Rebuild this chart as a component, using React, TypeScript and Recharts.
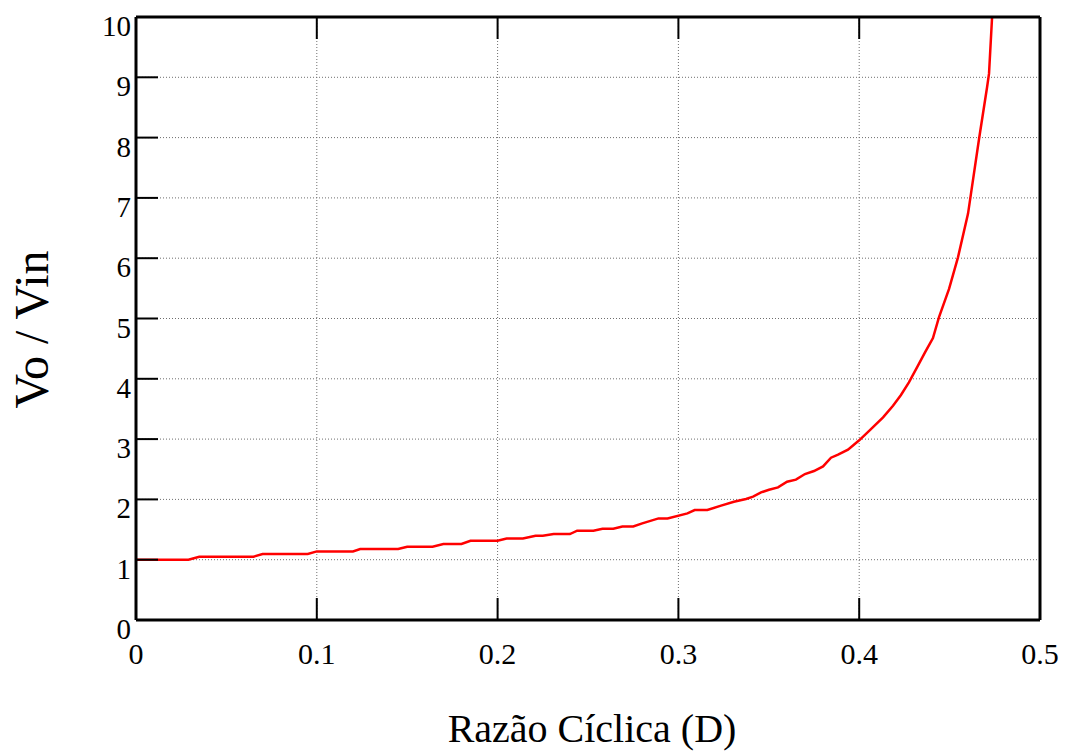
import React from "react";
import { LineChart, Line, XAxis, YAxis, CartesianGrid } from "recharts";

// Razão cíclica (D)
const dutyCycle = [
  0, 0.029, 0.035, 0.065, 0.07, 0.095, 0.1, 0.12, 0.124, 0.145, 0.15, 0.164,
  0.17, 0.18, 0.185, 0.2, 0.205, 0.214, 0.221, 0.225, 0.231, 0.24, 0.244,
  0.253, 0.258, 0.264, 0.269, 0.275, 0.28, 0.289, 0.294, 0.305, 0.309, 0.316,
  0.3236, 0.3307, 0.3374, 0.3413, 0.3457, 0.3501, 0.3551, 0.3601, 0.365, 0.37,
  0.375, 0.38, 0.3844, 0.3883, 0.3938, 0.4, 0.4065, 0.4132, 0.4187, 0.4231,
  0.4275, 0.4325, 0.4364, 0.4408, 0.4441, 0.4497, 0.4546, 0.4602, 0.4663,
  0.4707, 0.4718, 0.4735,
];

// Ganho Vo / Vin
const gain = [
  1.0, 1.0, 1.05, 1.05, 1.095, 1.095, 1.138, 1.138, 1.177, 1.177, 1.216, 1.216,
  1.26, 1.26, 1.315, 1.315, 1.353, 1.353, 1.398, 1.398, 1.426, 1.426, 1.481,
  1.481, 1.514, 1.514, 1.552, 1.552, 1.602, 1.685, 1.685, 1.768, 1.824, 1.824,
  1.896, 1.962, 2.007, 2.045, 2.116, 2.161, 2.199, 2.294, 2.327, 2.421, 2.471,
  2.547, 2.692, 2.741, 2.824, 2.98, 3.167, 3.36, 3.554, 3.731, 3.94, 4.217,
  4.437, 4.676, 5.018, 5.49, 6.01, 6.74, 7.98, 8.83, 9.06, 10.0,
];

const xTicks = [0, 0.1, 0.2, 0.3, 0.4, 0.5];
const yTicks = [0, 1, 2, 3, 4, 5, 6, 7, 8, 9, 10];

const xTitle = "Razão Cíclica (D)";
const yTitle = "Vo / Vin";

const data = dutyCycle.map((d, i) => ({ d, v: gain[i] }));

const FONT = "'Liberation Serif', 'Times New Roman', serif";
const TICK_LEN = 22;

function BottomTick(props: any) {
  const { x, y, payload } = props;
  return (
    <g>
      <line x1={x} y1={y} x2={x} y2={y - TICK_LEN} stroke="#000" strokeWidth={2} />
      <text x={x} y={y + 44} textAnchor="middle" fontFamily={FONT} fontSize={30} fill="#000">
        {String(payload.value)}
      </text>
    </g>
  );
}

function TopTick(props: any) {
  const { x, y } = props;
  return <line x1={x} y1={y} x2={x} y2={y + TICK_LEN} stroke="#000" strokeWidth={2} />;
}

function LeftTick(props: any) {
  const { x, y, payload } = props;
  return (
    <g>
      <line x1={x} y1={y} x2={x + TICK_LEN} y2={y} stroke="#000" strokeWidth={2} />
      <text x={x - 5} y={y + 19} textAnchor="end" fontFamily={FONT} fontSize={29} fill="#000">
        {String(payload.value)}
      </text>
    </g>
  );
}

function RightTick(props: any) {
  const { x, y } = props;
  return <line x1={x} y1={y} x2={x - TICK_LEN} y2={y} stroke="#000" strokeWidth={2} />;
}

const axisLine = { stroke: "#000", strokeWidth: 3 };

export default function App() {
  return (
    <div style={{ position: "absolute", left: 0, top: 0, background: "#fff" }}>
      <LineChart
        width={1072}
        height={753}
        data={data}
        margin={{ top: 0, right: 0, left: 0, bottom: 0 }}
      >
        <CartesianGrid
          xAxisId="b"
          yAxisId="l"
          stroke="#6e6e6e"
          strokeDasharray="1 2"
          strokeWidth={1}
        />
        <XAxis
          xAxisId="b"
          dataKey="d"
          type="number"
          domain={[0, 0.5]}
          ticks={xTicks}
          interval={0}
          height={133}
          tickSize={0}
          tickMargin={0}
          tickLine={false}
          axisLine={axisLine}
          tick={<BottomTick />}
          label={{
            content: (p: any) => {
              const vb = p.viewBox;
              return (
                <text
                  x={vb.x + vb.width / 2 + 4}
                  y={vb.y + 122}
                  textAnchor="middle"
                  fontFamily={FONT}
                  fontSize={40}
                  fill="#000"
                >
                  {xTitle}
                </text>
              );
            },
          }}
        />
        <XAxis
          xAxisId="t"
          orientation="top"
          dataKey="d"
          type="number"
          domain={[0, 0.5]}
          ticks={xTicks}
          interval={0}
          height={17}
          tickSize={0}
          tickMargin={0}
          tickLine={false}
          axisLine={axisLine}
          tick={<TopTick />}
        />
        <YAxis
          yAxisId="l"
          type="number"
          domain={[0, 10]}
          ticks={yTicks}
          interval={0}
          width={136}
          tickSize={0}
          tickMargin={0}
          tickLine={false}
          axisLine={axisLine}
          tick={<LeftTick />}
          label={{
            content: (p: any) => {
              const vb = p.viewBox;
              const cx = vb.x + 48;
              const cy = vb.y + vb.height / 2 + 11;
              return (
                <text
                  x={cx}
                  y={cy}
                  transform={`rotate(-90 ${cx} ${cy})`}
                  textAnchor="middle"
                  fontFamily={FONT}
                  fontSize={48}
                  fill="#000"
                >
                  {yTitle}
                </text>
              );
            },
          }}
        />
        <YAxis
          yAxisId="r"
          orientation="right"
          type="number"
          domain={[0, 10]}
          ticks={yTicks}
          interval={0}
          width={32}
          tickSize={0}
          tickMargin={0}
          tickLine={false}
          axisLine={axisLine}
          tick={<RightTick />}
        />
        <Line
          xAxisId="b"
          yAxisId="l"
          type="linear"
          dataKey="v"
          stroke="#ff0000"
          strokeWidth={2.5}
          dot={false}
          activeDot={false}
          isAnimationActive={false}
        />
      </LineChart>
    </div>
  );
}
